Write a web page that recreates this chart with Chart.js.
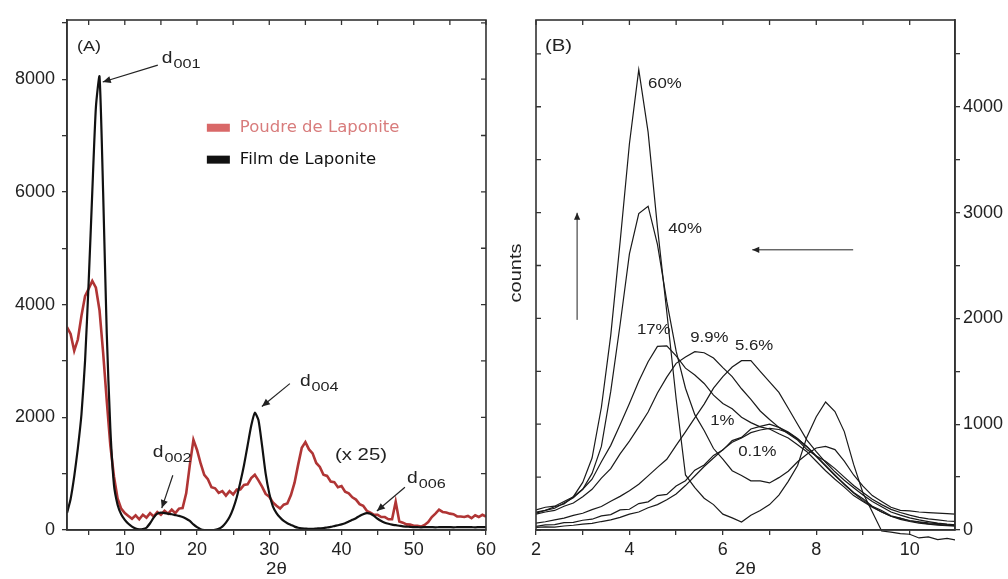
<!DOCTYPE html>
<html><head><meta charset="utf-8">
<script src="https://cdn.jsdelivr.net/npm/chart.js@4"></script>
<style>
html,body{margin:0;padding:0;background:#fff;width:1008px;height:579px;overflow:hidden}
#ca{position:absolute;left:0;top:0}
#cb{position:absolute;left:500px;top:0}
</style></head><body>
<canvas id="ca" width="500" height="579"></canvas>
<canvas id="cb" width="508" height="579"></canvas>
<script>
// ---------- Panel A data ----------
const xA = [2,2.5,3,3.5,4,4.5,5,5.5,6,6.5,7,7.5,8,8.5,9,9.5,10,10.5,11,11.5,12,12.5,13,13.5,14,14.5,15,15.5,16,16.5,17,17.5,18,18.5,19,19.5,20,20.5,21,21.5,22,22.5,23,23.5,24,24.5,25,25.5,26,26.5,27,27.5,28,28.5,29,29.5,30,30.5,31,31.5,32,32.5,33,33.5,34,34.5,35,35.5,36,36.5,37,37.5,38,38.5,39,39.5,40,40.5,41,41.5,42,42.5,43,43.5,44,44.5,45,45.5,46,46.5,47,47.5,48,48.5,49,49.5,50,50.5,51,51.5,52,52.5,53,53.5,54,54.5,55,55.5,56,56.5,57,57.5,58,58.5,59,59.5,60];
const poudreA = [3600,3480,3180,3380,3800,4150,4280,4420,4300,3900,
 3150,2300,1500,950,560,380,300,250,200,260,
 190,270,220,300,240,320,270,340,290,360,
 300,380,390,650,1150,1600,1420,1180,980,900,
 760,740,660,690,610,690,630,720,720,800,
 810,920,980,880,770,640,590,490,430,380,
 450,470,620,840,1160,1460,1560,1430,1360,1190,
 1120,980,960,860,850,760,780,680,650,580,
 540,460,430,340,310,270,270,230,230,190,
 190,500,150,130,100,95,75,75,60,90,
 140,230,290,360,320,310,290,280,240,240,
 230,250,210,260,230,270,240];
const filmA = [300,550,950,1450,2050,3000,4400,6000,7500,8050,
 6000,3500,1800,800,450,280,180,110,60,25,
 10,15,40,120,220,290,310,300,290,280,
 265,250,230,200,160,100,50,15,0,0,
 0,5,20,60,130,230,380,580,850,1150,
 1500,1850,2080,1950,1500,1000,650,420,300,220,
 160,120,90,60,40,30,25,20,20,25,
 30,35,45,55,70,85,100,120,150,180,
 210,250,280,300,290,250,200,160,130,110,
 95,85,75,65,60,55,50,
 50,48,50,52,50,48,50,50,52,50,48,50,50,52,50,50,48,50,52,50];
const labelsA = ['Poudre de Laponite','Film de Laponite'];
const xTicksA = [5,10,15,20,25,30,35,40,45,50,55,60];
const xTickLabelsA = ['10','20','30','40','50','60'];
const yTicksA = [0,1000,2000,3000,4000,5000,6000,7000,8000,9000];
const yTickLabelsA = ['0','2000','4000','6000','8000'];

// ---------- Panel B data ----------
const xB = [2.0,2.2,2.4,2.6,2.8,3.0,3.2,3.4,3.6,3.8,4.0,4.2,4.4,4.6,4.8,5.0,5.2,5.4,5.6,5.8,6.0,6.2,6.4,6.6,6.8,7.0,7.2,7.4,7.6,7.8,8.0,8.2,8.4,8.6,8.8,9.0,9.2,9.4,9.6,9.8,10.0,10.2,10.4,10.6,10.8,11.0];
const b60 = [190,215,225,270,315,450,680,1160,1840,2720,3650,4350,3760,2860,2060,1240,520,400,300,240,150,115,75,140,185,240,330,460,610,880,1070,1210,1120,930,620,350,170,-10,-20,-35,-40,-75,-65,-90,-80,-95];
const b40 = [170,185,220,245,315,385,535,790,1310,1940,2610,2990,3060,2700,2160,1690,1340,1090,940,770,670,560,515,465,465,445,495,555,645,715,775,790,760,650,520,415,325,270,215,185,180,170,165,160,155,150];
const b17 = [160,185,205,255,305,385,480,645,800,995,1195,1405,1590,1735,1740,1645,1530,1465,1385,1275,1195,1145,1065,1015,975,955,910,870,805,740,650,560,480,405,325,270,215,170,130,110,90,78,68,60,52,48];
const b99 = [150,170,185,225,255,315,385,490,580,720,840,975,1115,1295,1445,1575,1635,1685,1675,1625,1535,1450,1335,1235,1125,1045,970,910,850,760,700,650,580,500,420,355,290,240,195,165,140,120,105,95,85,80];
const b56 = [65,78,96,112,138,158,192,222,272,318,372,432,512,592,668,800,928,1060,1190,1340,1450,1540,1600,1600,1500,1400,1300,1150,1000,850,740,640,550,470,400,330,270,220,170,140,115,95,80,65,55,47];
const b1 = [35,48,50,70,72,92,102,134,146,190,196,250,266,325,336,415,466,565,615,705,755,845,875,955,980,1000,970,925,865,785,695,605,515,435,355,295,225,185,135,112,85,74,58,54,44,42];
const b01 = [25,30,28,38,45,55,62,80,95,120,150,170,210,240,285,340,420,510,600,680,760,830,870,920,945,960,950,920,860,790,700,610,520,430,350,280,220,170,130,100,80,65,55,45,40,35];
const seriesB = [b60,b40,b17,b99,b56,b1,b01];
const labelsB = ['60%','40%','17%','9.9%','5.6%','1%','0.1%'];
const xTicksB = [2,3,4,5,6,7,8,9,10];
const xTickLabelsB = ['2','4','6','8','10'];
const yTicksB = [0,500,1000,1500,2000,2500,3000,3500,4000,4500];
const yTickLabelsB = ['0','1000','2000','3000','4000'];

// ---------- styling ----------
const AXIS = '#333';
const FONT = "'Liberation Sans', Arial, sans-serif";
const HS = 1.2; // horizontal stretch of the scanned lettering
const pts = (xs, ys) => xs.map((x,i) => ({x, y: ys[i]}));

function arrow(ctx, x1, y1, x2, y2, head) {
  ctx.beginPath(); ctx.moveTo(x1,y1); ctx.lineTo(x2,y2); ctx.stroke();
  const a = Math.atan2(y2-y1, x2-x1);
  ctx.beginPath();
  ctx.moveTo(x2,y2);
  ctx.lineTo(x2 - head*Math.cos(a) + head*0.45*Math.sin(a), y2 - head*Math.sin(a) - head*0.45*Math.cos(a));
  ctx.lineTo(x2 - head*Math.cos(a) - head*0.45*Math.sin(a), y2 - head*Math.sin(a) + head*0.45*Math.cos(a));
  ctx.closePath(); ctx.fill();
}
function stretchedText(ctx, text, x, y, hs) {
  ctx.save(); ctx.translate(x, y); ctx.scale(hs, 1); ctx.fillText(text, 0, 0); ctx.restore();
  return ctx.measureText(text).width * hs;
}

const decor = {
  id: 'decor',
  afterDraw(chart, args, o) {
    const {ctx, chartArea: a} = chart;
    const xs = chart.scales.x, ys = chart.scales.y;
    const P = (x,y) => [xs.getPixelForValue(x), ys.getPixelForValue(y)];
    ctx.save();
    ctx.strokeStyle = AXIS; ctx.lineWidth = 1.6;
    ctx.strokeRect(a.left, a.top, a.right-a.left, a.bottom-a.top);
    ctx.lineWidth = 1.3;
    ctx.beginPath();
    xs.ticks.forEach(t => { const p = xs.getPixelForValue(t.value); ctx.moveTo(p, a.top); ctx.lineTo(p, a.top+5); });
    ys.ticks.forEach(t => { const p = ys.getPixelForValue(t.value);
      if (o.side === 'right') { ctx.moveTo(a.right, p); ctx.lineTo(a.right-5, p); }
      else { ctx.moveTo(a.left, p); ctx.lineTo(a.left+5, p); } });
    ctx.stroke();
    ctx.fillStyle = '#222'; ctx.font = '17px ' + FONT;
    ctx.textAlign = 'center'; ctx.textBaseline = 'middle';
    stretchedText(ctx, '2\u03B8', (a.left+a.right)/2, 569, 1.1);
    if (o.yTitle) {
      ctx.save(); ctx.translate(a.left-19, 273); ctx.rotate(-Math.PI/2);
      ctx.font = '16px ' + FONT; stretchedText(ctx, o.yTitle, 0, 0, 1.25); ctx.restore();
    }
    ctx.textAlign = 'left';
    (o.texts || []).forEach(t => {
      const [px, py] = P(t.x, t.y);
      ctx.fillStyle = t.color || '#222';
      ctx.font = (t.size || 14) + 'px ' + FONT;
      const w = stretchedText(ctx, t.text, px, py, HS);
      if (t.sub) {
        ctx.font = '12px ' + FONT;
        stretchedText(ctx, t.sub, px + w + 1, py + 6, 1.35);
      }
    });
    ctx.strokeStyle = '#222'; ctx.fillStyle = '#222';
    (o.arrows || []).forEach(r => {
      const [x1,y1] = P(r.x1, r.y1), [x2,y2] = P(r.x2, r.y2);
      ctx.lineWidth = r.w || 1.2;
      arrow(ctx, x1, y1, x2, y2, r.head || 8);
    });
    if (o.legend) {
      const lx = xs.getPixelForValue(o.legend.x);
      const tx = xs.getPixelForValue(o.legend.tx);
      chart.data.datasets.slice().sort((p,q)=>p.legendIndex-q.legendIndex).forEach((d, i) => {
        const py = ys.getPixelForValue(o.legend.ys[i]);
        ctx.fillStyle = d.swatch;
        ctx.fillRect(lx, py-4, 23, 8);
        ctx.fillStyle = d.textColor;
        ctx.font = "16.5px 'DejaVu Sans', Verdana, sans-serif";
        ctx.textBaseline = 'middle';
        ctx.fillText(d.label, tx, py);
      });
    }
    ctx.restore();
  }
};

function labelFrom(list) {
  return function(v) { const s = String(Math.round(v)); return list.includes(s) ? s : ''; };
}
function axisX(min, max, tickVals, list) {
  return {
    type: 'linear', min, max, position: 'bottom',
    afterBuildTicks: s => { s.ticks = tickVals.map(v => ({ value: v })); },
    ticks: { autoSkip: false, maxRotation: 0, color: '#222',
      font: { family: FONT, size: 18 }, padding: 4, callback: labelFrom(list) },
    grid: { drawOnChartArea: false, tickLength: 5, color: AXIS, lineWidth: 1.3 },
    border: { color: AXIS, width: 1.6 },
    afterFit: s => { s.height = 49; }
  };
}
function axisY(min, max, tickVals, list, position, width, pad) {
  return {
    type: 'linear', min, max, position,
    afterBuildTicks: s => { s.ticks = tickVals.map(v => ({ value: v })); },
    ticks: { autoSkip: false, color: '#222',
      font: { family: FONT, size: 18 }, padding: pad, callback: labelFrom(list) },
    grid: { drawOnChartArea: false, tickLength: 5, color: AXIS, lineWidth: 1.3 },
    border: { color: AXIS, width: 1.6 },
    afterFit: s => { s.width = width; }
  };
}

new Chart(document.getElementById('ca'), {
  type: 'line',
  data: { datasets: [
    { label: labelsA[0], data: pts(xA, poudreA), borderColor: '#b03535', borderWidth: 2.6,
      pointRadius: 0, tension: 0, order: 1, legendIndex: 0, swatch: '#d96868', textColor: '#d87c7c' },
    { label: labelsA[1], data: pts(xA, filmA), borderColor: '#111', borderWidth: 2.2,
      pointRadius: 0, tension: 0.2, order: 0, legendIndex: 1, swatch: '#111', textColor: '#111' }
  ]},
  options: {
    responsive: false, animation: false, devicePixelRatio: 1,
    layout: { padding: { top: 20, right: 14, left: 0, bottom: 0 } },
    plugins: { legend: { display: false }, tooltip: { enabled: false },
      decor: {
        side: 'right',
        legend: { x: 21.36, tx: 25.93, ys: [7138, 6572] },
        texts: [
          { text: '(A)', x: 3.4, y: 8570, size: 15 },
          { text: 'd', sub: '001', x: 15.12, y: 8357, size: 16 },
          { text: 'd', sub: '002', x: 13.88, y: 1378, size: 16 },
          { text: 'd', sub: '004', x: 34.24, y: 2632, size: 16 },
          { text: '(x 25)', x: 39.09, y: 1325, size: 17 },
          { text: 'd', sub: '006', x: 49.06, y: 919, size: 16 }
        ],
        arrows: [
          { x1: 14.57, y1: 8250, x2: 6.95, y2: 7950 },
          { x1: 16.65, y1: 972, x2: 15.12, y2: 389 },
          { x1: 32.85, y1: 2597, x2: 28.98, y2: 2191 },
          { x1: 48.78, y1: 760, x2: 44.9, y2: 336 }
        ]
      }
    },
    scales: { x: axisX(2, 60, xTicksA, xTickLabelsA), y: axisY(0, 9050, yTicksA, yTickLabelsA, 'left', 67, 7) }
  },
  plugins: [decor]
});

new Chart(document.getElementById('cb'), {
  type: 'line',
  data: { datasets: seriesB.map((s, i) => ({
    label: labelsB[i], data: pts(xB, s), borderColor: '#1a1a1a', borderWidth: 1.2,
    pointRadius: 0, tension: 0, clip: { left: 0, top: 0, right: 0, bottom: 15 }
  }))},
  options: {
    responsive: false, animation: false, devicePixelRatio: 1,
    layout: { padding: { top: 20, right: 0, left: 36, bottom: 0 } },
    plugins: { legend: { display: false }, tooltip: { enabled: false },
      decor: {
        side: 'left', yTitle: 'counts',
        texts: [
          { text: '(B)', x: 2.19, y: 4570, size: 17 },
          { text: labelsB[0], x: 4.4, y: 4210, size: 14 },
          { text: labelsB[1], x: 4.83, y: 2846, size: 14 },
          { text: labelsB[2], x: 4.16, y: 1890, size: 14 },
          { text: labelsB[3], x: 5.3, y: 1815, size: 14 },
          { text: labelsB[4], x: 6.26, y: 1740, size: 14 },
          { text: labelsB[5], x: 5.73, y: 1030, size: 14 },
          { text: labelsB[6], x: 6.33, y: 737, size: 14 }
        ],
        arrows: [
          { x1: 2.88, y1: 1986, x2: 2.88, y2: 2998, w: 1, head: 7 },
          { x1: 8.79, y1: 2648, x2: 6.63, y2: 2648, w: 1, head: 7 }
        ]
      }
    },
    scales: { x: axisX(2, 10.97, xTicksB, xTickLabelsB), y: axisY(0, 4820, yTicksB, yTickLabelsB, 'right', 53, 3) }
  },
  plugins: [decor]
});
</script>
</body></html>
